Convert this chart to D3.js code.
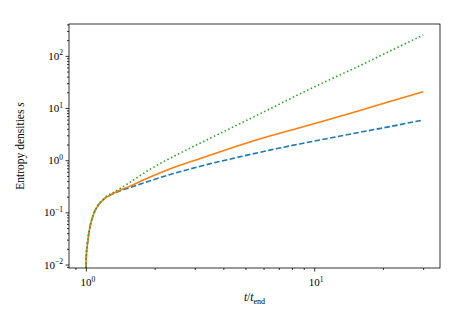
<!DOCTYPE html>
<html>
<head>
<meta charset="utf-8">
<script src="https://cdn.jsdelivr.net/npm/d3@7"></script>
<style>
  body { margin: 0; background: #fff; }
</style>
</head>
<body>
<div id="wrapper"></div>
<script>
// values
const tRatio  = [1, 1.004, 1.017, 1.04, 1.08, 1.13, 1.21, 1.34, 1.55, 1.9, 2.58, 3.15, 4.72, 6.39, 8.64, 11.7, 16, 22, 30]
const sBlue   = [0, 0.014, 0.026, 0.05, 0.092, 0.135, 0.185, 0.235, 0.295, 0.40, 0.60, 0.76, 1.16, 1.56, 2.05, 2.65, 3.45, 4.5, 5.9]
const sOrange = [0, 0.014, 0.026, 0.05, 0.092, 0.135, 0.185, 0.24, 0.315, 0.47, 0.80, 1.07, 1.94, 2.9, 4.2, 6.1, 9.1, 13.8, 20.5]
const sGreen  = [0, 0.014, 0.026, 0.05, 0.092, 0.137, 0.19, 0.25, 0.37, 0.66, 1.36, 2.1, 5.0, 9.6, 18.6, 35, 66, 130, 250]

const xMajor = [1, 10]
const yMajor = [0.01, 0.1, 1, 10, 100]

const series = [
  { name: "blue", values: sBlue, color: "#1f77b4", dash: "5.5,2.4" },
  { name: "orange", values: sOrange, color: "#ff7f0e", dash: null },
  { name: "green", values: sGreen, color: "#2ca02c", dash: "1.5,2.5" }
]

function drawChart() {
  let dimensions = {
    width: 464,
    height: 327,
    margin: { top: 24, right: 24, bottom: 59, left: 69 }
  }
  dimensions.boundedWidth = dimensions.width - dimensions.margin.left - dimensions.margin.right
  dimensions.boundedHeight = dimensions.height - dimensions.margin.top - dimensions.margin.bottom

  const wrapper = d3.select("#wrapper")
    .append("svg")
      .attr("width", dimensions.width)
      .attr("height", dimensions.height)
      .attr("font-family", "'Liberation Serif', 'DejaVu Serif', serif")

  const bounds = wrapper.append("g")
    .attr("transform", `translate(${dimensions.margin.left},${dimensions.margin.top})`)

  // matplotlib style 5% margins in log space
  const logPad = (lo, hi) => {
    const a = Math.log10(lo), b = Math.log10(hi), p = (b - a) * 0.05
    return [Math.pow(10, a - p), Math.pow(10, b + p)]
  }
  const allS = [...sBlue, ...sOrange, ...sGreen].filter(v => v > 0)

  const xScale = d3.scaleLog()
    .domain(logPad(d3.min(tRatio), d3.max(tRatio)))
    .range([0, dimensions.boundedWidth])

  const yScale = d3.scaleLog()
    .domain(logPad(d3.min(allS), d3.max(allS)))
    .range([dimensions.boundedHeight, 0])
    .clamp(true)

  bounds.append("clipPath").attr("id", "clip")
    .append("rect")
      .attr("width", dimensions.boundedWidth)
      .attr("height", dimensions.boundedHeight)

  const lineGenerator = d3.line()
    .x(d => xScale(d[0]))
    .y(d => yScale(d[1]))
    .curve(d3.curveMonotoneX)

  const lines = bounds.append("g").attr("clip-path", "url(#clip)")
  series.forEach(s => {
    lines.append("path")
      .datum(tRatio.map((t, i) => [t, s.values[i]]))
      .attr("fill", "none")
      .attr("stroke", s.color)
      .attr("stroke-width", 1.6)
      .attr("stroke-dasharray", s.dash)
      .attr("d", lineGenerator)
  })

  // minor tick positions
  const minorTicks = (scale) => {
    const [lo, hi] = scale.domain()
    const out = []
    for (let e = Math.floor(Math.log10(lo)); e <= Math.ceil(Math.log10(hi)); e++) {
      for (let m = 2; m <= 9; m++) {
        const v = m * Math.pow(10, e)
        if (v >= lo && v <= hi) out.push(v)
      }
    }
    return out
  }

  const styleAxis = g => {
    g.select(".domain").remove()
    g.selectAll("line").attr("stroke", "#000").attr("stroke-width", 0.8)
  }

  bounds.append("g")
    .attr("transform", `translate(0,${dimensions.boundedHeight})`)
    .call(d3.axisBottom(xScale).tickValues(xMajor).tickSize(3.5).tickFormat(""))
    .call(styleAxis)
  bounds.append("g")
    .attr("transform", `translate(0,${dimensions.boundedHeight})`)
    .call(d3.axisBottom(xScale).tickValues(minorTicks(xScale)).tickSize(2).tickFormat(""))
    .call(styleAxis)
  bounds.append("g")
    .call(d3.axisLeft(yScale).tickValues(yMajor).tickSize(3.5).tickFormat(""))
    .call(styleAxis)
  bounds.append("g")
    .call(d3.axisLeft(yScale).tickValues(minorTicks(yScale)).tickSize(2).tickFormat(""))
    .call(styleAxis)

  // frame
  bounds.append("rect")
    .attr("width", dimensions.boundedWidth)
    .attr("height", dimensions.boundedHeight)
    .attr("fill", "none")
    .attr("stroke", "#000")
    .attr("stroke-width", 0.8)

  // tick labels as 10^n
  const powLabel = (sel) => {
    sel.append("tspan").text("10")
    sel.append("tspan")
      .attr("dy", -4.5)
      .attr("font-size", "7.5px")
      .text(d => Math.round(Math.log10(d)).toString().replace("-", "\u2212"))
  }

  bounds.append("g").selectAll("text")
    .data(xMajor)
    .enter().append("text")
      .attr("x", d => xScale(d) + 2)
      .attr("y", dimensions.boundedHeight + 18)
      .attr("text-anchor", "middle")
      .attr("font-size", "11px")
      .call(powLabel)

  bounds.append("g").selectAll("text")
    .data(yMajor)
    .enter().append("text")
      .attr("x", -6)
      .attr("y", d => yScale(d) + 4)
      .attr("text-anchor", "end")
      .attr("font-size", "11px")
      .call(powLabel)

  // axis labels
  const xLabel = bounds.append("text")
    .attr("x", dimensions.boundedWidth / 2)
    .attr("y", dimensions.boundedHeight + 33)
    .attr("text-anchor", "middle")
    .attr("font-size", "11.5px")
  xLabel.append("tspan").attr("font-style", "italic").text("t")
  xLabel.append("tspan").text("/")
  xLabel.append("tspan").attr("font-style", "italic").text("t")
  xLabel.append("tspan").attr("dy", 2.5).attr("font-size", "8px").text("end")

  const yLabel = bounds.append("text")
    .attr("transform", `translate(${-45},${dimensions.boundedHeight / 2}) rotate(-90)`)
    .attr("text-anchor", "middle")
    .attr("font-size", "11.5px")
  yLabel.append("tspan").text("Entropy densities ")
  yLabel.append("tspan").attr("font-style", "italic").text("s")
}

drawChart()
</script>
</body>
</html>
